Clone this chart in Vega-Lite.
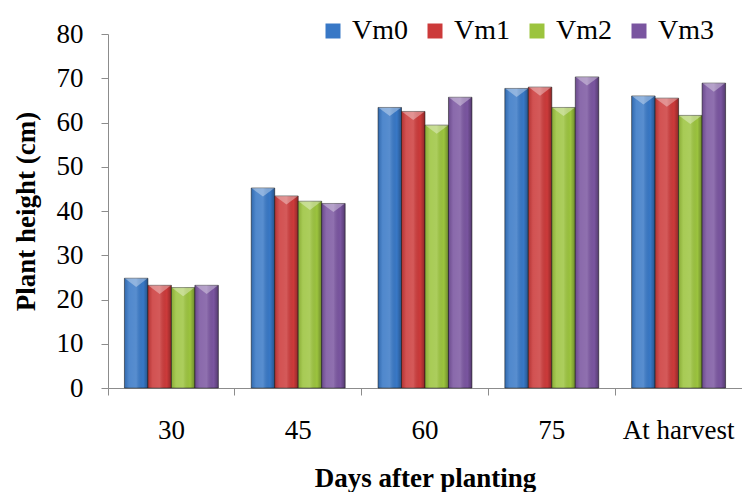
{
  "$schema": "https://vega.github.io/schema/vega-lite/v6.json",
  "width": 634,
  "height": 354,
  "autosize": {"type": "none"},
  "padding": {"left": 108, "top": 34, "right": 0, "bottom": 104},
  "background": "white",
  "config": {
    "view": {"stroke": null},
    "axis": {"grid": false, "domainColor": "#8c8c8c", "tickColor": "#8c8c8c", "tickSize": 7}
  },
  "data": {
    "values": [
      {"day": "30", "variety": "Vm0", "height": 24.8},
      {"day": "30", "variety": "Vm1", "height": 23.2},
      {"day": "30", "variety": "Vm2", "height": 22.7},
      {"day": "30", "variety": "Vm3", "height": 23.2},
      {"day": "45", "variety": "Vm0", "height": 45.2},
      {"day": "45", "variety": "Vm1", "height": 43.4},
      {"day": "45", "variety": "Vm2", "height": 42.2},
      {"day": "45", "variety": "Vm3", "height": 41.7},
      {"day": "60", "variety": "Vm0", "height": 63.4},
      {"day": "60", "variety": "Vm1", "height": 62.5},
      {"day": "60", "variety": "Vm2", "height": 59.4},
      {"day": "60", "variety": "Vm3", "height": 65.7},
      {"day": "75", "variety": "Vm0", "height": 67.7},
      {"day": "75", "variety": "Vm1", "height": 68.0},
      {"day": "75", "variety": "Vm2", "height": 63.4},
      {"day": "75", "variety": "Vm3", "height": 70.3},
      {"day": "At harvest", "variety": "Vm0", "height": 66.0},
      {"day": "At harvest", "variety": "Vm1", "height": 65.5},
      {"day": "At harvest", "variety": "Vm2", "height": 61.6},
      {"day": "At harvest", "variety": "Vm3", "height": 68.9}
    ]
  },
  "encoding": {
    "x": {
      "field": "day", "type": "nominal", "sort": ["30", "45", "60", "75", "At harvest"],
      "scale": {"paddingInner": 0, "paddingOuter": 0},
      "axis": {
        "title": "Days after planting", "labelAngle": 0, "bandPosition": 0, "labelPadding": 22, "titlePadding": 22,
        "labelFont": "Liberation Serif", "labelFontSize": 27, "labelColor": "black",
        "titleFont": "Liberation Serif", "titleFontSize": 27, "titleFontWeight": "bold", "titleColor": "black"
      }
    },
    "xOffset": {
      "field": "variety", "type": "nominal",
      "scale": {"paddingInner": 0, "paddingOuter": 0.7}
    },
    "y": {
      "field": "height", "type": "quantitative",
      "scale": {"domain": [0, 80], "nice": false},
      "axis": {
        "title": "Plant height (cm)", "values": [0, 10, 20, 30, 40, 50, 60, 70, 80], "labelPadding": 18, "titlePadding": 16,
        "labelFont": "Liberation Serif", "labelFontSize": 27, "labelColor": "black",
        "titleFont": "Liberation Serif", "titleFontSize": 27, "titleFontWeight": "bold", "titleColor": "black"
      }
    }
  },
  "layer": [
    {
      "mark": {"type": "bar", "stroke": "#1e1e1e", "strokeOpacity": 0.55, "strokeWidth": 1},
      "encoding": {
        "color": {
          "field": "variety", "type": "nominal",
          "scale": {"domain": ["Vm0", "Vm1", "Vm2", "Vm3"], "range": ["#3878c6", "#cc3a3a", "#9cc43e", "#7a55a0"]},
          "legend": {
            "title": null, "orient": "none", "direction": "horizontal", "legendX": 211, "legendY": -17,
            "symbolType": "square", "symbolSize": 225, "symbolStrokeWidth": 0, "symbolOpacity": 1,
            "labelOffset": 5, "columnPadding": 13,
            "labelFont": "Liberation Serif", "labelFontSize": 28, "labelColor": "black"
          }
        }
      }
    },
    {
      "mark": {
        "type": "bar",
        "fill": {
          "gradient": "linear", "x1": 0, "x2": 1, "y1": 0, "y2": 0,
          "stops": [
            {"offset": 0, "color": "rgba(0,0,0,0.12)"},
            {"offset": 0.2, "color": "rgba(255,255,255,0.12)"},
            {"offset": 0.5, "color": "rgba(255,255,255,0.16)"},
            {"offset": 0.8, "color": "rgba(0,0,0,0)"},
            {"offset": 1, "color": "rgba(0,0,0,0.3)"}
          ]
        }
      },
      "encoding": {}
    },
    {
      "mark": {
        "type": "point", "filled": true, "fill": "white", "fillOpacity": 0.35, "strokeWidth": 0,
        "shape": "M -1 0 L 1 0 L 0 0.75 Z", "size": 529
      },
      "encoding": {}
    }
  ]
}
